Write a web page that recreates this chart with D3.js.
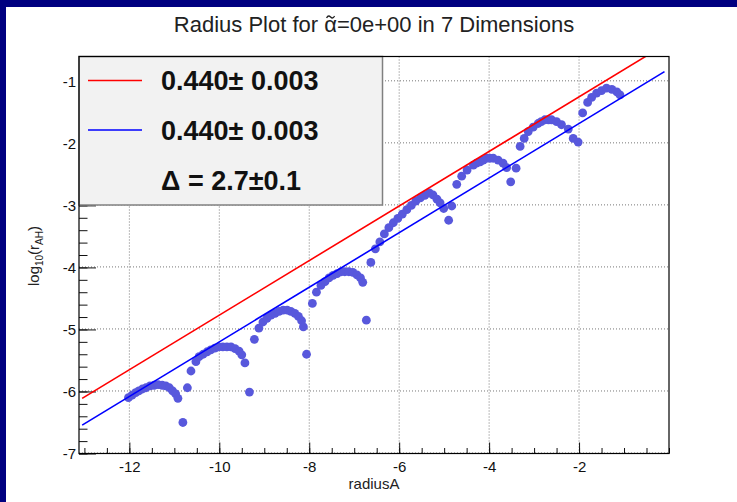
<!DOCTYPE html>
<html>
<head>
<meta charset="utf-8">
<script src="https://cdn.jsdelivr.net/npm/d3@7"></script>
<style>
	body { margin: 0; background: #000080; }
	svg { display: block; font-family: "Liberation Sans", Arial, sans-serif; }
</style>
</head>
<body>
<div id="chart-area"></div>
<script>
/* Radius plot, log10(r_AH) vs radiusA */

// scatter points, grouped by hump
const radiusA = [
	-12.02, -11.94, -11.86, -11.79, -11.71, -11.63, -11.54, -11.45, -11.36, -11.27, -11.19, -11.11, -11.04, -10.97, -10.92, -10.81,
	-10.71, -10.63, -10.52, -10.45, -10.36, -10.27, -10.19, -10.10, -10.01, -9.92, -9.83, -9.74, -9.65, -9.56, -9.50, -9.43, -9.33,
	-9.22, -9.12, -9.03, -8.94, -8.85, -8.76, -8.67, -8.58, -8.49, -8.41, -8.32, -8.24, -8.17, -8.13, -8.06,
	-7.93, -7.84, -7.74, -7.65, -7.56, -7.47, -7.38, -7.29, -7.21, -7.12, -7.03, -6.94, -6.86, -6.81, -6.73,
	-6.63, -6.53, -6.43, -6.33, -6.23, -6.13, -6.03, -5.93, -5.83, -5.73, -5.63, -5.53, -5.43, -5.33, -5.25, -5.16, -5.09, -5.01, -4.90, -4.83,
	-4.72, -4.61, -4.49, -4.35, -4.28, -4.20, -4.13, -4.05, -3.98, -3.91, -3.80, -3.69, -3.61, -3.52, -3.40,
	-3.31, -3.22, -3.13, -3.02, -2.91, -2.84, -2.76, -2.68, -2.61, -2.50, -2.39, -2.24, -2.13, -2.02,
	-1.92, -1.81, -1.72, -1.61, -1.50, -1.39, -1.27, -1.16, -1.09
]
const logR = [
	-6.10, -6.06, -6.02, -5.99, -5.96, -5.94, -5.91, -5.90, -5.89, -5.90, -5.91, -5.94, -5.99, -6.04, -6.11, -6.50,
	-5.94, -5.67, -5.52, -5.44, -5.40, -5.36, -5.33, -5.30, -5.28, -5.28, -5.28, -5.28, -5.31, -5.35, -5.41, -5.54, -6.01,
	-5.16, -4.98, -4.88, -4.82, -4.77, -4.74, -4.71, -4.69, -4.69, -4.71, -4.74, -4.79, -4.86, -4.96, -5.40,
	-4.58, -4.40, -4.29, -4.23, -4.17, -4.13, -4.10, -4.07, -4.07, -4.07, -4.08, -4.12, -4.17, -4.24, -4.85,
	-3.92, -3.70, -3.59, -3.46, -3.36, -3.28, -3.21, -3.14, -3.07, -3.00, -2.93, -2.88, -2.84, -2.80, -2.83, -2.90, -2.96, -3.05, -3.24, -3.01,
	-2.66, -2.53, -2.43, -2.35, -2.32, -2.30, -2.27, -2.24, -2.24, -2.24, -2.27, -2.32, -2.39, -2.62, -2.40,
	-2.05, -1.92, -1.81, -1.74, -1.68, -1.65, -1.62, -1.62, -1.62, -1.65, -1.70, -1.77, -1.92, -1.98,
	-1.51, -1.34, -1.26, -1.19, -1.15, -1.11, -1.13, -1.17, -1.22
]

// the two fits: y = slope * x + intercept
const fitColors = ['#ff0000', '#0000ff']
const fitSlopes = [0.44, 0.44]
const fitIntercepts = [-0.37, -0.80]
const fitFrom = [-13.05, -13.05]
const fitTo = [-0.3, -0.1]
const legendLabels = ['0.440\u00b1 0.003', '0.440\u00b1 0.003']
const deltaLabel = '\u0394 = 2.7\u00b10.1'

const xMajor = [-12, -10, -8, -6, -4, -2]
const yMajor = [-1, -2, -3, -4, -5, -6, -7]
const xMinor = d3.range(-13, 0.01, 0.5)
const yMinor = d3.range(-7, -0.59, 0.2)

/* Canvas */
const CANVAS_WIDTH = 737
const CANVAS_HEIGHT = 502
const frame = { left: 79, top: 56.5, right: 669, bottom: 453.5 }

const $svg = d3.select('#chart-area')
	.append('svg')
	.attr('width', CANVAS_WIDTH)
	.attr('height', CANVAS_HEIGHT)

$svg.append('rect')
	.attr('x', 6).attr('y', 7)
	.attr('width', CANVAS_WIDTH - 6).attr('height', CANVAS_HEIGHT - 7)
	.attr('fill', '#fff')

/* Scales */
const xScale = d3.scaleLinear().domain([-13.12, 0]).range([frame.left, frame.right])
const yScale = d3.scaleLinear().domain([-7, -0.6]).range([frame.bottom, frame.top])

$svg.append('clipPath').attr('id', 'plot-clip')
	.append('rect')
	.attr('x', frame.left).attr('y', frame.top)
	.attr('width', frame.right - frame.left).attr('height', frame.bottom - frame.top)

/* Title */
const titleText = 'Radius Plot for \u03b1=0e+00 in 7 Dimensions'
const $title = $svg.append('text')
	.attr('x', (frame.left + frame.right) / 2)
	.attr('y', 32)
	.attr('text-anchor', 'middle')
	.attr('font-size', 22)
	.attr('fill', '#222')
	.text(titleText)

// tilde over the alpha, drawn as a small stroke
const alphaBox = $title.node().getExtentOfChar(titleText.indexOf('\u03b1'))
const tx = alphaBox.x + alphaBox.width / 2
const ty = alphaBox.y + alphaBox.height * 0.2
$svg.append('path')
	.attr('d', `M${tx - 4},${ty + 1} C${tx - 2.5},${ty - 2} ${tx - 1},${ty - 1} ${tx},${ty} S${tx + 2.5},${ty + 2} ${tx + 4},${ty - 1}`)
	.attr('fill', 'none')
	.attr('stroke', '#222')
	.attr('stroke-width', 1.3)

/* Grid */
const $grid = $svg.append('g')
	.attr('stroke', '#777')
	.attr('stroke-width', 1)
	.attr('stroke-dasharray', '1,2')

$grid.selectAll('.gx').data(xMajor).join('line')
	.attr('x1', d => xScale(d)).attr('x2', d => xScale(d))
	.attr('y1', frame.top).attr('y2', frame.bottom)

$grid.selectAll('.gy').data(yMajor).join('line')
	.attr('x1', frame.left).attr('x2', frame.right)
	.attr('y1', d => yScale(d) - 0.5).attr('y2', d => yScale(d) - 0.5)

/* Axes */
const plainFormat = d => String(d)

$svg.append('g')
	.attr('transform', `translate(0, ${frame.bottom})`)
	.call(d3.axisBottom(xScale).tickValues(xMajor).tickSize(-11).tickPadding(8).tickFormat(plainFormat))
$svg.append('g')
	.attr('transform', `translate(0, ${frame.bottom})`)
	.call(d3.axisBottom(xScale).tickValues(xMinor).tickSize(-5.5).tickFormat(''))

$svg.append('g')
	.attr('transform', `translate(${frame.left}, 0)`)
	.call(d3.axisLeft(yScale).tickValues(yMajor).tickSize(-17).tickPadding(3).tickFormat(plainFormat))
$svg.append('g')
	.attr('transform', `translate(${frame.left}, 0)`)
	.call(d3.axisLeft(yScale).tickValues(yMinor).tickSize(-8.5).tickFormat(''))

$svg.selectAll('.tick text')
	.attr('font-size', 15)
	.attr('font-family', '"Liberation Sans", Arial, sans-serif')
	.attr('fill', '#111')
$svg.selectAll('.domain').remove()
$svg.selectAll('.tick line').attr('stroke', '#111')

/* Axis titles */
$svg.append('text')
	.attr('x', (frame.left + frame.right) / 2)
	.attr('y', 489)
	.attr('text-anchor', 'middle')
	.attr('font-size', 15)
	.attr('fill', '#222')
	.text('radiusA')

const $yTitle = $svg.append('text')
	.attr('transform', `translate(39, 256) rotate(-90)`)
	.attr('text-anchor', 'middle')
	.attr('font-size', 15)
	.attr('fill', '#222')
$yTitle.append('tspan').text('log')
$yTitle.append('tspan').attr('font-size', 10).attr('dy', 4).text('10')
$yTitle.append('tspan').attr('dy', -4).text('(r')
$yTitle.append('tspan').attr('font-size', 10).attr('dy', 4).text('AH')
$yTitle.append('tspan').attr('dy', -4).text(')')

/* Points */
const points = radiusA.map((x, i) => ({ x, y: logR[i] }))
$svg.append('g')
	.attr('clip-path', 'url(#plot-clip)')
	.selectAll('circle')
	.data(points)
	.join('circle')
	.attr('cx', d => xScale(d.x))
	.attr('cy', d => yScale(d.y))
	.attr('r', 4.4)
	.attr('fill', '#5858dc')

/* Fit lines */
const fits = fitSlopes.map((s, i) => ({
	color: fitColors[i],
	pts: [fitFrom[i], fitTo[i]].map(x => [x, s * x + fitIntercepts[i]])
}))
const line = d3.line().x(d => xScale(d[0])).y(d => yScale(d[1]))
$svg.append('g')
	.attr('clip-path', 'url(#plot-clip)')
	.selectAll('path')
	.data(fits)
	.join('path')
	.attr('d', d => line(d.pts))
	.attr('fill', 'none')
	.attr('stroke', d => d.color)
	.attr('stroke-width', 1.6)

/* Legend */
const $legend = $svg.append('g')
$legend.append('rect')
	.attr('x', frame.left).attr('y', frame.top)
	.attr('width', 303.5).attr('height', 148.5)
	.attr('fill', '#f2f2f2')
	.attr('stroke', '#808080')
	.attr('stroke-width', 1.5)

legendLabels.forEach((label, i) => {
	const y = 80.5 + i * 49.5
	$legend.append('line')
		.attr('x1', 88).attr('x2', 142)
		.attr('y1', y).attr('y2', y)
		.attr('stroke', fitColors[i])
		.attr('stroke-width', 1.6)
	$legend.append('text')
		.attr('x', 161)
		.attr('y', y + 9.5)
		.attr('font-size', 27)
		.attr('font-weight', 'bold')
		.attr('fill', '#111')
		.text(label)
})
$legend.append('text')
	.attr('x', 161)
	.attr('y', 190)
	.attr('font-size', 27)
	.attr('font-weight', 'bold')
	.attr('fill', '#111')
	.text(deltaLabel)

/* Frame */
$svg.append('rect')
	.attr('x', frame.left).attr('y', frame.top)
	.attr('width', frame.right - frame.left).attr('height', frame.bottom - frame.top)
	.attr('fill', 'none')
	.attr('stroke', '#000')
	.attr('stroke-width', 1.2)
</script>
</body>
</html>
